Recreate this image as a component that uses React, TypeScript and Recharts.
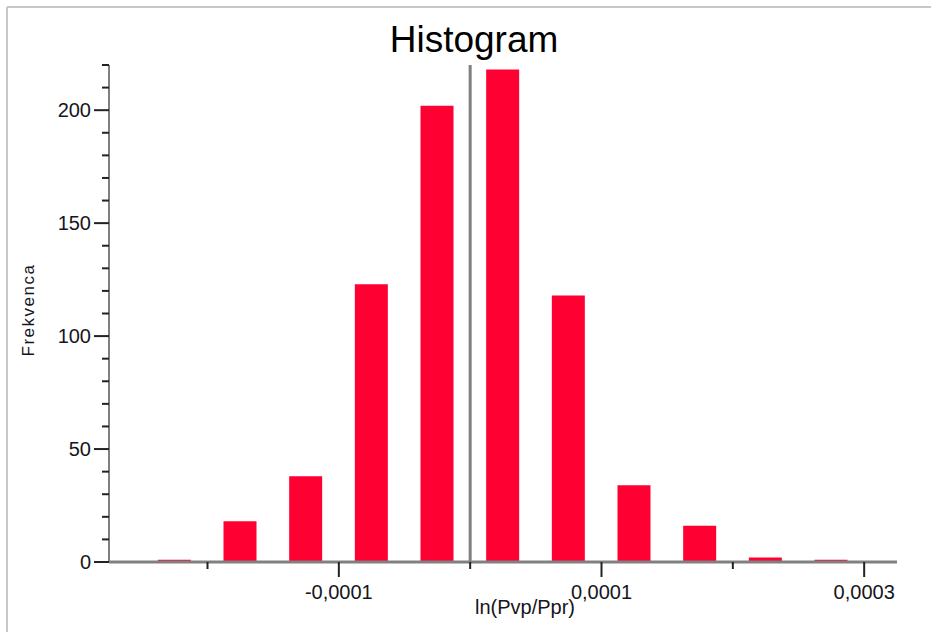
import { BarChart, Bar, XAxis, YAxis, ReferenceLine } from 'recharts'

// histogram bins (bin centres) and counts
const binCenters = [
  -0.000225, -0.000175, -0.000125, -0.000075, -0.000025, 0.000025, 0.000075, 0.000125,
  0.000175, 0.000225, 0.000275,
]
const counts = [1, 18, 38, 123, 202, 218, 118, 34, 16, 2, 1]

const xTickValues = [-0.0002, -0.0001, 0, 0.0001, 0.0002, 0.0003]
const xTickLabels = ['', '-0,0001', '', '0,0001', '', '0,0003']

const yTickValues = [0, 10, 20, 30, 40, 50, 60, 70, 80, 90, 100, 110, 120, 130, 140, 150, 160, 170, 180, 190, 200, 210, 220]
const yMajorTicks = [0, 50, 100, 150, 200]

const data = binCenters.map((x, i) => ({ x, count: counts[i] }))

const FONT = '"Liberation Sans", Arial, sans-serif'
const TEXT = '#151520'
const AXIS = '#808080'

function XTick({ x, y, payload }: any) {
  const label = xTickLabels[xTickValues.indexOf(payload.value)]
  const major = !!label
  return (
    <g>
      <line x1={x} y1={y} x2={x} y2={y + (major ? 15 : 7)} stroke="#222" strokeWidth={2} />
      {major && (
        <text x={x} y={y + 37} textAnchor="middle" fontFamily={FONT} fontSize={20} fill={TEXT}>
          {label}
        </text>
      )}
    </g>
  )
}

function YTick({ x, y, payload }: any) {
  const major = yMajorTicks.includes(payload.value)
  return (
    <g>
      <line x1={x - (major ? 15 : 7)} y1={y} x2={x} y2={y} stroke="#222" strokeWidth={2} />
      {major && (
        <text x={x - 18} y={y} dy="0.36em" textAnchor="end" fontFamily={FONT} fontSize={20} fill={TEXT}>
          {payload.value}
        </text>
      )}
    </g>
  )
}

export default function App() {
  return (
    <div style={{ position: 'absolute', left: 0, top: 0, width: 931, height: 632, background: '#fff' }}>
      <BarChart
        width={931}
        height={632}
        data={data}
        margin={{ top: 65, right: 34, left: 49, bottom: 40 }}
      >
        <XAxis
          dataKey="x"
          type="number"
          domain={[-0.000275, 0.000325]}
          allowDataOverflow
          ticks={xTickValues}
          interval={0}
          tick={<XTick />}
          tickLine={false}
          tickSize={0}
          tickMargin={0}
          axisLine={{ stroke: AXIS, strokeWidth: 3 }}
        />
        <YAxis
          type="number"
          domain={[0, 220]}
          ticks={yTickValues}
          interval={0}
          width={60}
          tick={<YTick />}
          tickLine={false}
          tickSize={0}
          tickMargin={0}
          axisLine={{ stroke: AXIS, strokeWidth: 2 }}
        />
        <Bar dataKey="count" fill="#ff0033" barSize={33} isAnimationActive={false} />
        <ReferenceLine x={0} stroke={AXIS} strokeWidth={3} />
      </BarChart>
      <svg
        width={931}
        height={632}
        style={{ position: 'absolute', left: 0, top: 0, pointerEvents: 'none' }}
      >
        <line x1={7} y1={7} x2={931} y2={7} stroke="#c8c8c8" strokeWidth={2} />
        <line x1={7} y1={7} x2={7} y2={632} stroke="#c8c8c8" strokeWidth={2} />
        <text x={474} y={52} textAnchor="middle" fontFamily={FONT} fontSize={37} fill="#000">
          Histogram
        </text>
        <text x={525} y={614} textAnchor="middle" fontFamily={FONT} fontSize={20} fill={TEXT}>
          ln(Pvp/Ppr)
        </text>
        <text
          x={34}
          y={310}
          transform="rotate(-90 34 310)"
          textAnchor="middle"
          fontFamily={FONT}
          fontSize={17}
          letterSpacing={1.5}
          fill={TEXT}
        >
          Frekvenca
        </text>
      </svg>
    </div>
  )
}
